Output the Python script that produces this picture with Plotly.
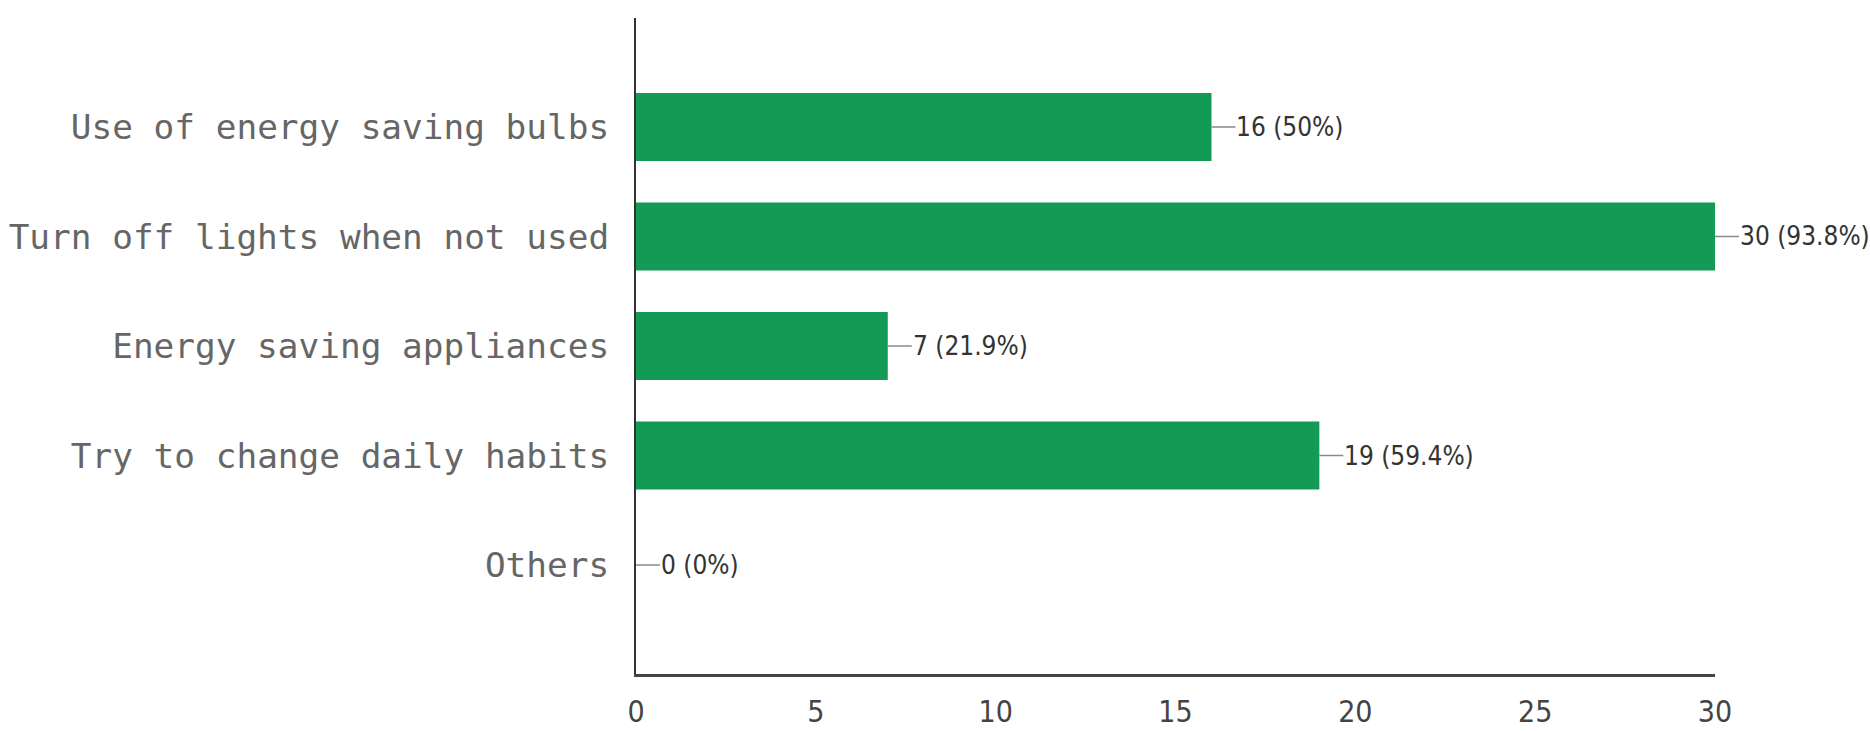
import plotly.graph_objects as go

# Survey responses: energy-saving practices
categories = [
    "Use of energy saving bulbs",
    "Turn off lights when not used",
    "Energy saving appliances",
    "Try to change daily habits",
    "Others",
]
counts = [16, 30, 7, 19, 0]
percents = ["50%", "93.8%", "21.9%", "59.4%", "0%"]

bar_color = "#139b56"
label_font = "Liberation Sans Narrow, DejaVu Sans Condensed, Arial Narrow, Roboto, sans-serif"

fig = go.Figure(
    go.Bar(
        x=counts,
        y=categories,
        orientation="h",
        marker=dict(color=bar_color, line=dict(width=0)),
        hoverinfo="skip",
    )
)

# Value labels with a short leader line from each bar end
for cat, n, p in zip(categories, counts, percents):
    fig.add_annotation(
        x=n,
        y=cat,
        xref="x",
        yref="y",
        text=f"{n} ({p})",
        showarrow=True,
        arrowhead=0,
        arrowwidth=1.5,
        arrowcolor="#8a8a8a",
        ax=24,
        ay=0,
        xanchor="left",
        standoff=0,
        startstandoff=0,
        borderpad=0,
        font=dict(family=label_font, size=26, color="#333333"),
    )

fig.update_layout(
    width=1870,
    height=731,
    margin=dict(l=636, r=155, t=18, b=57, autoexpand=False),
    paper_bgcolor="white",
    plot_bgcolor="white",
    bargap=0.38,
    showlegend=False,
    xaxis=dict(
        range=[0, 30],
        tickvals=[0, 5, 10, 15, 20, 25, 30],
        showgrid=False,
        zeroline=False,
        showline=True,
        linecolor="#444444",
        linewidth=3,
        ticks="",
        automargin=False,
        ticklabelstandoff=9,
        tickfont=dict(family=label_font, size=30, color="#444444"),
    ),
    yaxis=dict(
        categoryorder="array",
        categoryarray=categories,
        range=[4.995, -0.995],
        showgrid=False,
        zeroline=False,
        showline=True,
        linecolor="#333333",
        linewidth=2,
        ticks="",
        automargin=False,
        ticklabelstandoff=18,
        tickfont=dict(family="DejaVu Sans Mono, Liberation Mono, monospace", size=34.4, color="#666666"),
    ),
)

fig.write_html("out.html")
